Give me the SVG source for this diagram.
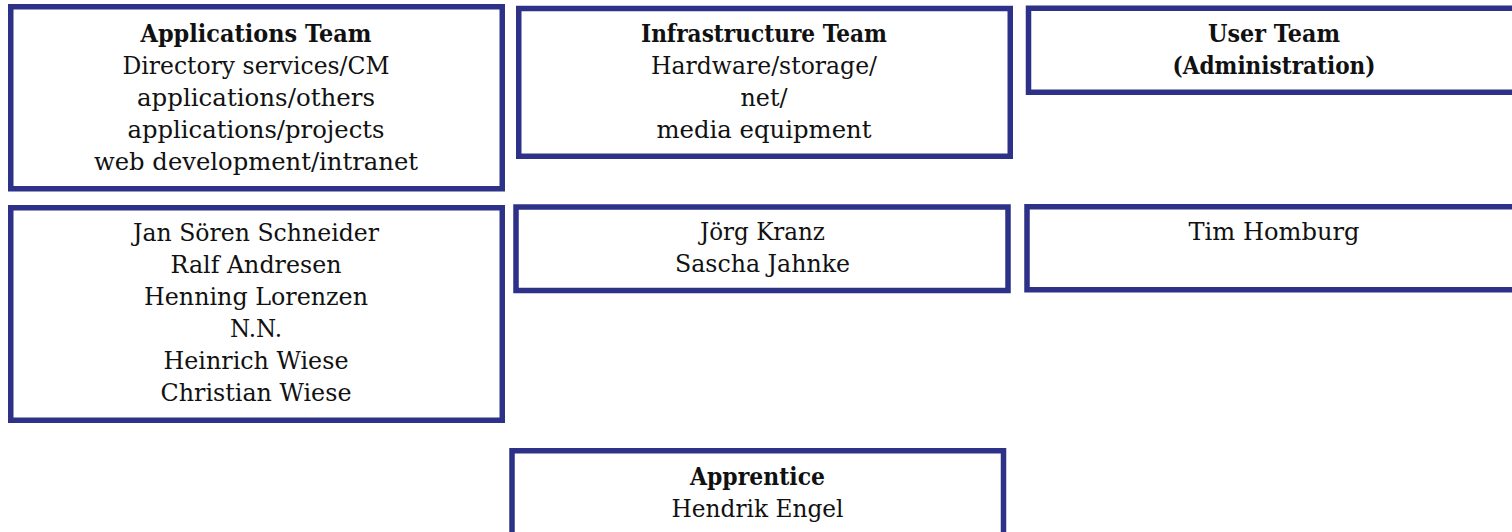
<svg xmlns="http://www.w3.org/2000/svg" width="1512" height="532" viewBox="0 0 1512 532">
<style>
.box{fill:#fff;stroke:#2e3188;stroke-width:5.5}
text{font-family:"DejaVu Serif","Liberation Serif",serif;font-size:23.5px;fill:#111;text-anchor:middle}
.h{font-weight:bold}
</style>
<rect width="1512" height="532" fill="#fff"/>
<g id="connectors"/>
<g id="applications-team">
<rect class="box" x="10.75" y="6.75" width="491.5" height="182"/>
<text x="256" y="42" class="h" textLength="231" lengthAdjust="spacingAndGlyphs">Applications Team</text>
<text x="256" y="74" textLength="267" lengthAdjust="spacingAndGlyphs">Directory services/CM</text>
<text x="256" y="106" textLength="238" lengthAdjust="spacingAndGlyphs">applications/others</text>
<text x="256" y="138" textLength="257" lengthAdjust="spacingAndGlyphs">applications/projects</text>
<text x="256" y="170" textLength="324" lengthAdjust="spacingAndGlyphs">web development/intranet</text>
</g>
<g id="infrastructure-team">
<rect class="box" x="518.75" y="8.5" width="491.5" height="147.75"/>
<text x="764" y="42" class="h" textLength="246" lengthAdjust="spacingAndGlyphs">Infrastructure Team</text>
<text x="764" y="74" textLength="226" lengthAdjust="spacingAndGlyphs">Hardware/storage/</text>
<text x="764" y="106" textLength="47" lengthAdjust="spacingAndGlyphs">net/</text>
<text x="764" y="138" textLength="215" lengthAdjust="spacingAndGlyphs">media equipment</text>
</g>
<g id="user-team">
<rect class="box" x="1028.5" y="8.25" width="491.5" height="84"/>
<text x="1274" y="42" class="h" textLength="132" lengthAdjust="spacingAndGlyphs">User Team</text>
<text x="1274" y="74" class="h" textLength="203" lengthAdjust="spacingAndGlyphs">(Administration)</text>
</g>
<g id="applications-members">
<rect class="box" x="10.75" y="207.75" width="491.5" height="212.5"/>
<text x="256" y="241" textLength="246" lengthAdjust="spacingAndGlyphs">Jan Sören Schneider</text>
<text x="256" y="273" textLength="171" lengthAdjust="spacingAndGlyphs">Ralf Andresen</text>
<text x="256" y="305" textLength="224" lengthAdjust="spacingAndGlyphs">Henning Lorenzen</text>
<text x="256" y="337" textLength="52" lengthAdjust="spacingAndGlyphs">N.N.</text>
<text x="256" y="369" textLength="185" lengthAdjust="spacingAndGlyphs">Heinrich Wiese</text>
<text x="256" y="401" textLength="191" lengthAdjust="spacingAndGlyphs">Christian Wiese</text>
</g>
<g id="infrastructure-members">
<rect class="box" x="516" y="207" width="492" height="83.5"/>
<text x="762.5" y="240" textLength="125" lengthAdjust="spacingAndGlyphs">Jörg Kranz</text>
<text x="762.5" y="272" textLength="175" lengthAdjust="spacingAndGlyphs">Sascha Jahnke</text>
</g>
<g id="user-members">
<rect class="box" x="1027" y="206.75" width="492" height="83"/>
<text x="1274" y="240" textLength="171" lengthAdjust="spacingAndGlyphs">Tim Homburg</text>
</g>
<g id="apprentice">
<rect class="box" x="512" y="450.75" width="491.5" height="120"/>
<text x="757.5" y="485" class="h" textLength="135" lengthAdjust="spacingAndGlyphs">Apprentice</text>
<text x="757.5" y="517" textLength="172" lengthAdjust="spacingAndGlyphs">Hendrik Engel</text>
</g>
</svg>
